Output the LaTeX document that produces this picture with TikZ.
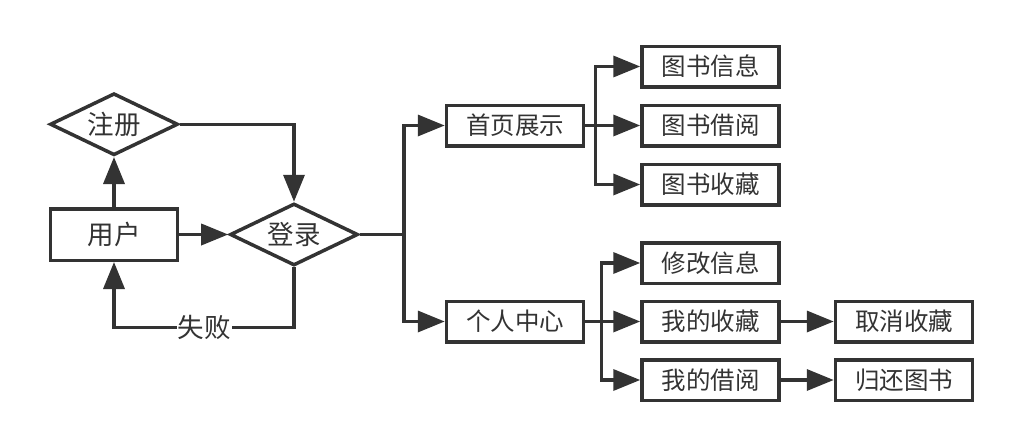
\documentclass[tikz,border=0pt]{standalone}
\usepackage{fontspec}
\setmainfont{Noto Sans CJK SC}
\usetikzlibrary{shapes.geometric, arrows.meta, positioning}
\definecolor{ink}{HTML}{333333}
\tikzstyle{process} = [rectangle, minimum width=137pt, minimum height=40.5pt, inner sep=0pt, text centered, draw=ink, line width=3.5pt, text=ink, font=\fontsize{24.5}{28}\selectfont]
\tikzstyle{start} = [process, minimum width=127pt, minimum height=51.5pt, font=\fontsize{26.5}{30}\selectfont]
\tikzstyle{decision} = [diamond, aspect=2, minimum width=128pt, minimum height=62pt, inner sep=0pt, text centered, draw=ink, line width=3.5pt, text=ink, font=\fontsize{26.5}{30}\selectfont]
\tikzstyle{arrow} = [line width=3.5pt, draw=ink, -{Triangle[length=27pt, width=21pt]}]

\begin{document}
\begin{tikzpicture}[x=1pt, y=-1pt]
\useasboundingbox (0,0) rectangle (1018,447);

% Login part
\node (user) [start] at (114,234.5) {用户};
\node (reg) [decision, above=50pt of user] {注册};
\node (login) [decision, right=49pt of user] {登录};

% Two main pages
\node (home) [process] at (515,125.5) {首页展示};
\node (center) [process] at (515,321.5) {个人中心};

% Home page branch
\node (borrow) [process, right=55pt of home] {图书借阅};
\node (info) [process, above=15pt of borrow] {图书信息};
\node (collect) [process, below=15pt of borrow] {图书收藏};

% Personal center branch
\node (myfav) [process, right=55pt of center] {我的收藏};
\node (modify) [process, above=14.5pt of myfav] {修改信息};
\node (myborrow) [process, below=14.5pt of myfav] {我的借阅};
\node (cancel) [process, right=53pt of myfav] {取消收藏};
\node (giveback) [process, right=53pt of myborrow] {归还图书};

% Arrows
\draw [arrow] (user) -- (reg);
\draw [arrow] (user) -- (login);
\draw [arrow] (reg.east) -| (login.north);
\draw [arrow] (login.south) -- ++(0,60) -| node[pos=0.25, fill=white, inner sep=1pt, text=ink, font=\fontsize{26.5}{30}\selectfont] {失败} (user.south);
\draw [arrow] (login.east) -- ++(44,0) |- (home);
\draw [arrow] (login.east) -- ++(44,0) |- (center);
\draw [arrow] (home.east) -- ++(10,0) |- (info);
\draw [arrow] (home) -- (borrow);
\draw [arrow] (home.east) -- ++(10,0) |- (collect);
\draw [arrow] (center.east) -- ++(16,0) |- (modify);
\draw [arrow] (center) -- (myfav);
\draw [arrow] (center.east) -- ++(16,0) |- (myborrow);
\draw [arrow] (myfav) -- (cancel);
\draw [arrow] (myborrow) -- (giveback);

\end{tikzpicture}
\end{document}
